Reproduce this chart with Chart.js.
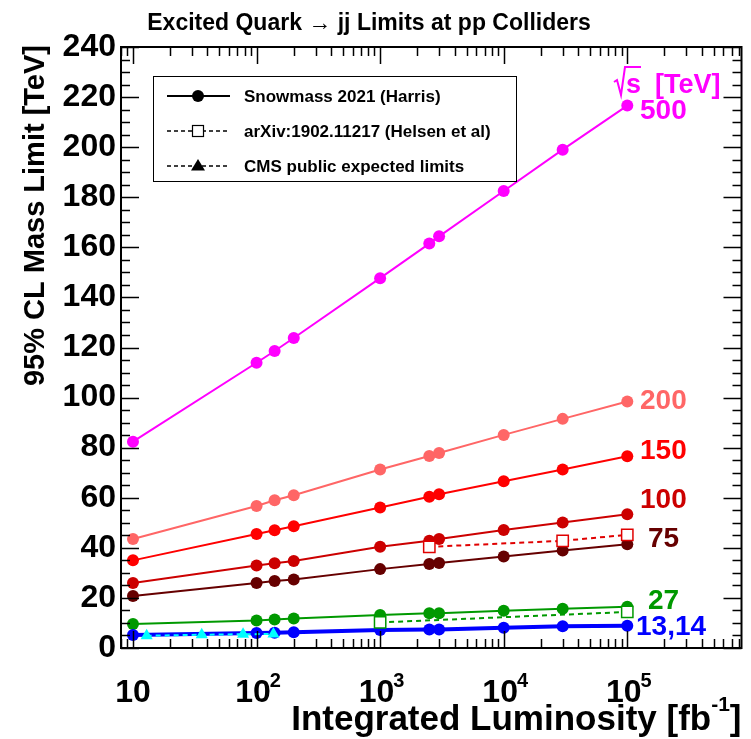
<!DOCTYPE html>
<html>
<head>
<meta charset="utf-8">
<script src="https://cdn.jsdelivr.net/npm/chart.js@4.4.1/dist/chart.umd.min.js"></script>
<style>
  html, body { margin: 0; padding: 0; background: #fff; }
  #wrap { width: 751px; height: 739px; }
</style>
</head>
<body>
<div id="wrap"><canvas id="chart" width="751" height="739"></canvas></div>
<script>
// luminosity points (fb^-1) used by the Snowmass curves
const lumi = [10, 100, 140, 200, 1000, 2500, 3000, 10000, 30000, 100000];

// excited quark mass limits [TeV] per collider energy
const m500 = [82.4, 113.9, 118.6, 123.8, 147.7, 161.5, 164.4, 182.5, 199.0, 216.6];
const m200 = [43.5, 56.7, 59.0, 61.0, 71.3, 76.7, 77.9, 85.1, 91.5, 98.4];
const m150 = [35.0, 45.5, 47.0, 48.6, 56.1, 60.4, 61.4, 66.6, 71.3, 76.6];
const m100 = [26.0, 32.9, 33.8, 34.7, 40.4, 42.8, 43.5, 47.1, 50.1, 53.4];
const m75  = [20.8, 26.0, 26.8, 27.4, 31.5, 33.5, 33.9, 36.5, 38.9, 41.4];
const m27  = [9.6, 11.0, 11.4, 11.8, 13.2, 13.9, 13.9, 14.9, 15.7, 16.5];
const m13  = [5.2, 6.0, 6.1, 6.3, 7.2, 7.4, 7.4, 8.1, 8.7, 8.9];

// Helsen et al (arXiv:1902.11217)
const helsenLumi100 = [2500, 30000, 100000];
const helsen100 = [40.4, 42.8, 45.2];
const helsenLumi27 = [1000, 100000];
const helsen27 = [10.2, 14.4];

// CMS public expected limits
const cmsLumi = [12.9, 36, 77.8, 137];
const cmsLimit = [4.9, 5.3, 5.5, 5.6];

const xMajor = [10, 100, 1000, 10000, 100000];
const xTickLabels = [["10", ""], ["10", "2"], ["10", "3"], ["10", "4"], ["10", "5"]];

const energyLabels = ["500", "200", "150", "100", "75", "27", "13,14"];
const colors = ["#ff00ff", "#ff6666", "#ff0000", "#cc0000", "#660000", "#009900", "#0000ff"];

const FONT = "'Liberation Sans', Arial, Helvetica, sans-serif";

function pts(xs, ys) {
  return xs.map((x, i) => ({ x: x, y: ys[i] }));
}

function harris(ys, c, w) {
  return {
    data: pts(lumi, ys),
    borderColor: c,
    backgroundColor: c,
    borderWidth: w || 2,
    pointRadius: 6,
    pointBorderWidth: 0,
    pointBackgroundColor: c,
  };
}

function helsen(xs, ys, c) {
  return {
    data: pts(xs, ys),
    borderColor: c,
    borderWidth: 2,
    borderDash: [5, 4],
    pointStyle: "rect",
    pointRadius: 8,
    pointBorderWidth: 1.5,
    pointBorderColor: c,
    pointBackgroundColor: "#fff",
  };
}

const datasets = [
  {
    data: pts(cmsLumi, cmsLimit),
    borderColor: "#00ffff",
    borderWidth: 2,
    borderDash: [5, 4],
    pointStyle: "triangle",
    pointRadius: 7,
    pointBorderWidth: 0,
    pointBackgroundColor: "#00ffff",
  },
  helsen(helsenLumi100, helsen100, "#e00000"),
  helsen(helsenLumi27, helsen27, "#009900"),
  harris(m13, colors[6], 4),
  harris(m27, colors[5]),
  harris(m75, colors[4]),
  harris(m100, colors[3]),
  harris(m150, colors[2]),
  harris(m200, colors[1]),
  harris(m500, colors[0]),
];

// frame, inward ticks, labels, legend and titles drawn on top
const rootStyle = {
  id: "rootStyle",
  afterDraw(chart) {
    const ctx = chart.ctx;
    const xs = chart.scales.x;
    const ys = chart.scales.y;
    const a = chart.chartArea;
    ctx.save();

    // frame
    ctx.strokeStyle = "#000";
    ctx.lineWidth = 2;
    ctx.strokeRect(a.left, a.top, a.right - a.left, a.bottom - a.top);

    // x ticks (bottom and top)
    ctx.lineWidth = 1.5;
    ctx.beginPath();
    for (let d = 1; d <= 100000; d *= 10) {
      for (let k = 1; k < 10; k++) {
        const v = d * k;
        if (v < xs.min || v > xs.max) continue;
        const px = Math.round(xs.getPixelForValue(v)) + 0.5;
        const len = k === 1 ? 17 : 9;
        ctx.moveTo(px, a.bottom);
        ctx.lineTo(px, a.bottom - len);
        ctx.moveTo(px, a.top);
        ctx.lineTo(px, a.top + len);
      }
    }
    // y ticks (left and right)
    for (let v = 0; v <= 240; v += 5) {
      const py = Math.round(ys.getPixelForValue(v)) + 0.5;
      const len = v % 20 === 0 ? 18 : 9;
      ctx.moveTo(a.left, py);
      ctx.lineTo(a.left + len, py);
      ctx.moveTo(a.right, py);
      ctx.lineTo(a.right - len, py);
    }
    ctx.stroke();

    // x tick labels with superscript exponents
    ctx.fillStyle = "#000";
    ctx.textBaseline = "alphabetic";
    xMajor.forEach((v, i) => {
      const px = xs.getPixelForValue(v);
      const base = xTickLabels[i][0];
      const sup = xTickLabels[i][1];
      ctx.font = "bold 32px " + FONT;
      const wb = ctx.measureText(base).width;
      ctx.font = "bold 20px " + FONT;
      const ws = sup ? ctx.measureText(sup).width : 0;
      const x0 = px - (wb + ws) / 2 + (sup ? 2 : 0);
      ctx.font = "bold 32px " + FONT;
      ctx.textAlign = "left";
      ctx.fillText(base, x0, 702);
      if (sup) {
        ctx.font = "bold 20px " + FONT;
        ctx.fillText(sup, x0 + wb - 1, 687);
      }
    });

    // x title
    ctx.textAlign = "right";
    const sup1 = "-1";
    ctx.font = "bold 21px " + FONT;
    const wsup = ctx.measureText(sup1).width;
    ctx.font = "bold 35px " + FONT;
    const wbr = ctx.measureText("]").width;
    ctx.fillText("]", a.right, 730);
    ctx.font = "bold 21px " + FONT;
    ctx.fillText(sup1, a.right - wbr, 711);
    ctx.font = "bold 35px " + FONT;
    ctx.fillText("Integrated Luminosity [fb", a.right - wbr - wsup, 730);

    // y title
    ctx.save();
    ctx.translate(44, a.top - 2);
    ctx.rotate(-Math.PI / 2);
    ctx.font = "bold 29px " + FONT;
    ctx.textAlign = "right";
    ctx.fillText("95% CL Mass Limit [TeV]", 0, 0);
    ctx.restore();

    // title
    ctx.font = "bold 23px " + FONT;
    ctx.textAlign = "center";
    ctx.fillText("Excited Quark \u2192 jj Limits at pp Colliders", 369, 30);

    // collider energy labels next to the last point of each curve
    const lastY = [m500, m200, m150, m100, m75, m27, m13].map(s => s[s.length - 1]);
    const labelDy = [6, 0, -5, -14, -5, -5, 2];
    const labelX = [640, 640, 640, 640, 648, 648, 636];
    ctx.font = "bold 28px " + FONT;
    ctx.textAlign = "left";
    ctx.textBaseline = "middle";
    energyLabels.forEach((t, i) => {
      ctx.fillStyle = colors[i];
      ctx.fillText(t, labelX[i], ys.getPixelForValue(lastY[i]) + labelDy[i]);
    });

    // sqrt(s) [TeV]
    ctx.fillStyle = "#ff00ff";
    ctx.strokeStyle = "#ff00ff";
    ctx.lineWidth = 2;
    ctx.beginPath();
    ctx.moveTo(614, 82);
    ctx.lineTo(617, 80);
    ctx.lineTo(621, 95);
    ctx.lineTo(625, 67);
    ctx.lineTo(641, 67);
    ctx.stroke();
    ctx.textBaseline = "alphabetic";
    ctx.font = "bold 27px " + FONT;
    ctx.fillText("s", 626, 93);
    ctx.fillText("[TeV]", 655, 93);

    // legend box
    ctx.fillStyle = "#fff";
    ctx.fillRect(153, 76, 364, 106);
    ctx.strokeStyle = "#000";
    ctx.lineWidth = 1;
    ctx.strokeRect(153.5, 76.5, 363, 105);
    const rows = [96, 131, 166];
    const legTexts = ["Snowmass 2021 (Harris)", "arXiv:1902.11217 (Helsen et al)", "CMS public expected limits"];
    rows.forEach((y, i) => {
      ctx.strokeStyle = "#000";
      ctx.lineWidth = i === 0 ? 2 : 1.5;
      ctx.setLineDash(i === 0 ? [] : [4, 3]);
      ctx.beginPath();
      ctx.moveTo(167, y);
      ctx.lineTo(230, y);
      ctx.stroke();
      ctx.setLineDash([]);
      ctx.fillStyle = "#000";
      if (i === 0) {
        ctx.beginPath();
        ctx.arc(198, y, 6, 0, Math.PI * 2);
        ctx.fill();
      } else if (i === 1) {
        ctx.fillStyle = "#fff";
        ctx.fillRect(192.5, y - 5.5, 11, 11);
        ctx.lineWidth = 1.2;
        ctx.strokeRect(192.5, y - 5.5, 11, 11);
      } else {
        ctx.beginPath();
        ctx.moveTo(198, y - 7);
        ctx.lineTo(205, y + 4.5);
        ctx.lineTo(191, y + 4.5);
        ctx.closePath();
        ctx.fill();
      }
      ctx.fillStyle = "#000";
      ctx.font = "bold 17px " + FONT;
      ctx.textAlign = "left";
      ctx.textBaseline = "middle";
      ctx.fillText(legTexts[i], 244, y + 1);
    });

    ctx.restore();
  },
};

new Chart(document.getElementById("chart"), {
  type: "line",
  data: { datasets: datasets },
  options: {
    responsive: false,
    animation: false,
    devicePixelRatio: 1,
    layout: { padding: { top: 47, right: 6, bottom: 0, left: 0 } },
    elements: { line: { tension: 0 } },
    plugins: {
      legend: { display: false },
      tooltip: { enabled: false },
      title: { display: false },
    },
    scales: {
      x: {
        type: "logarithmic",
        min: 8,
        max: 840000,
        grid: { display: false },
        border: { display: false },
        ticks: { display: false },
        afterFit: (s) => { s.height = 91; },
      },
      y: {
        type: "linear",
        min: 0,
        max: 240,
        grid: { display: false, drawTicks: false },
        border: { display: false },
        ticks: {
          stepSize: 20,
          color: "#000",
          padding: 5,
          font: { family: FONT, size: 32, weight: "bold" },
        },
        afterFit: (s) => { s.width = 121; },
      },
    },
  },
  plugins: [rootStyle],
});
</script>
</body>
</html>
